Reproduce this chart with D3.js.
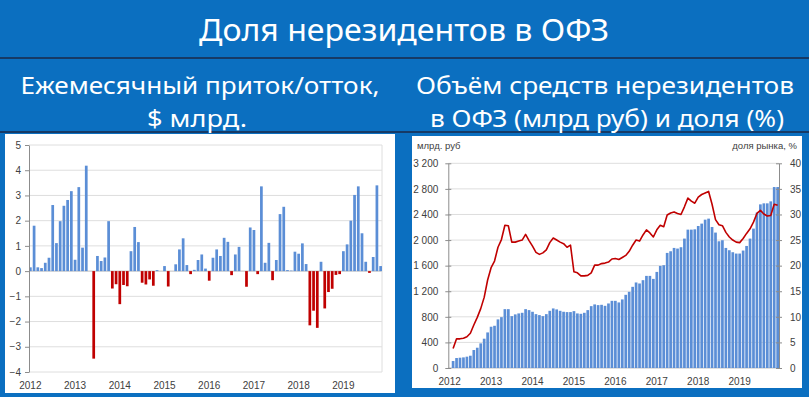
<!DOCTYPE html>
<html>
<head>
<meta charset="utf-8">
<script src="https://cdnjs.cloudflare.com/ajax/libs/d3/7.8.5/d3.min.js"></script>
<style>
  body { margin: 0; background: #0b6fc0; }
  svg { display: block; }
</style>
</head>
<body>
<svg id="chart" width="809" height="397"></svg>
<script>
// Monthly flows, $ bn, Jan 2012 .. Nov 2019
const flowStart = new Date(2012, 0, 1);
const flowEnd = new Date(2019, 11, 1);
const flowValues = [
  0.15, 1.80, 0.15, 0.12, 0.33, 0.53, 2.62, 1.11, 1.98, 2.59, 2.82, 3.17,
  0.45, 3.33, 0.93, 4.18, 0.00, -3.47, 0.60, 0.40, 0.54, 1.98, -0.69, -0.52,
  -1.31, -0.55, -0.60, 0.79, 1.75, 1.15, -0.46, -0.53, -0.33, -0.58, 0.04, 0.00,
  0.20, -0.61, 0.00, 0.27, 0.86, 1.30, 0.24, -0.12, 0.05, 0.44, 0.66, 0.10,
  -0.38, 0.53, 0.86, 0.60, 1.32, 1.16, -0.16, 0.66, 0.96, 0.00, -0.62, 1.73,
  1.63, -0.12, 3.36, 0.33, 1.12, -0.36, 0.44, 2.26, 2.55, 0.04, 0.02, 0.77,
  0.69, 1.10, 0.28, -2.15, -1.57, -2.25, 0.37, -1.48, -0.83, -0.70, -0.15, -0.12,
  0.79, 1.06, 2.00, 3.02, 3.36, 1.50, 0.37, -0.07, 0.56, 3.40, 0.20
];
const flowTicks = [-4, -3, -2, -1, 0, 1, 2, 3, 4, 5];

// Holdings, bn rub, and market share, %, Feb 2012 .. Dec 2019
const stockStart = new Date(2012, 0, 1);
const stockEnd = new Date(2020, 0, 1);
const stockValues = [
  109, 156, 161, 166, 177, 192, 281, 317, 385, 458, 556,
  645, 660, 760, 795, 920, 920, 811, 838, 853, 863, 920, 905,
  879, 842, 827, 811, 842, 894, 931, 916, 894, 879, 874, 874,
  889, 853, 847, 863, 905, 967, 994, 983, 988, 972, 1009, 1050,
  1050, 1025, 1072, 1144, 1191, 1269, 1337, 1321, 1373, 1440, 1440, 1393,
  1502, 1596, 1607, 1799, 1825, 1877, 1867, 1888, 2023, 2163, 2163, 2168,
  2220, 2257, 2319, 2335, 2204, 2117, 1981, 1997, 1877, 1841, 1810, 1789,
  1789, 1836, 1908, 2023, 2179, 2429, 2558, 2574, 2574, 2605, 2829, 2829
];
const shareValues = [
  3.8, 5.7, 5.7, 5.8, 6.1, 6.8, 8.4, 9.9, 11.6, 13.8, 17.2,
  19.6, 20.9, 23.6, 25.1, 27.9, 27.8, 24.6, 24.6, 24.8, 25.0, 26.1, 24.9,
  23.8, 22.6, 22.2, 22.5, 23.1, 24.5, 25.4, 25.0, 24.6, 24.3, 23.6, 24.0,
  18.8, 18.6, 18.0, 18.0, 18.1, 18.6, 20.1, 20.1, 20.4, 20.5, 20.7, 21.3,
  21.4, 21.2, 21.6, 22.0, 22.8, 24.0, 25.0, 24.8, 26.0, 27.0, 26.4, 25.6,
  27.0, 27.9, 27.6, 29.9, 30.3, 30.5, 30.2, 30.0, 31.5, 33.2, 32.6, 32.2,
  33.4, 33.9, 34.2, 34.5, 32.0, 29.0, 28.0, 27.8, 26.5, 25.6, 25.0, 24.6,
  24.5, 25.3, 26.3, 27.2, 28.5, 30.2, 30.8, 30.1, 29.7, 29.8, 32.0, 31.8
];
const stockTicks = [0, 400, 800, 1200, 1600, 2000, 2400, 2800, 3200];
const shareTicks = [0, 5, 10, 15, 20, 25, 30, 35, 40];
const yearLabels = ['2012', '2013', '2014', '2015', '2016', '2017', '2018', '2019'];

const svg = d3.select('#chart');
const FONT = "'Liberation Sans', Arial, sans-serif";
const HEAD = "'Noto Sans', 'Open Sans', sans-serif";

// background and header
svg.append('rect').attr('width', 809).attr('height', 397).attr('fill', '#0b6fc0');
svg.append('rect').attr('x', 0).attr('y', 57).attr('width', 809).attr('height', 2).attr('fill', '#163a66');
svg.append('rect').attr('x', 0).attr('y', 131).attr('width', 809).attr('height', 2).attr('fill', '#163a66');

function headText(txt, cx, y, size, len) {
  svg.append('text')
    .attr('x', cx).attr('y', y)
    .attr('text-anchor', 'middle')
    .attr('textLength', len)
    .attr('lengthAdjust', 'spacingAndGlyphs')
    .style('font-family', HEAD)
    .style('font-size', size + 'px')
    .style('fill', '#ffffff')
    .text(txt);
}
headText('Доля нерезидентов в ОФЗ', 404, 41, 31, 410);
headText('Ежемесячный приток/отток,', 200, 94, 24, 359);
headText('$ млрд.', 197, 127, 24, 100);
headText('Объём средств нерезидентов', 605, 94, 24, 378);
headText('в ОФЗ (млрд руб) и доля (%)', 607, 127, 24, 354);

// panels
svg.append('rect').attr('x', 5).attr('y', 134).attr('width', 390).attr('height', 259).attr('fill', '#ffffff');
svg.append('rect').attr('x', 412).attr('y', 136).attr('width', 390).attr('height', 252).attr('fill', '#ffffff');

// ---------- Left chart: monthly flows ----------
const flowMonths = d3.timeMonth.range(flowStart, flowEnd);
const flowData = flowMonths.map((m, i) => ({ m, v: flowValues[i] }));

const fx = d3.scaleBand().domain(flowMonths).range([29, 382]).paddingInner(0.27).paddingOuter(0);
const fy = d3.scaleLinear().domain([-4, 5]).range([372, 145]);

const left = svg.append('g');
left.selectAll('line.grid')
  .data(flowTicks)
  .join('line')
    .attr('x1', 29).attr('x2', 382)
    .attr('y1', d => fy(d)).attr('y2', d => fy(d))
    .attr('stroke', d => d === 0 ? '#bfbfbf' : '#dedede')
    .attr('stroke-width', 1);
left.append('line')
  .attr('x1', 382).attr('x2', 382).attr('y1', fy(5)).attr('y2', fy(-4))
  .attr('stroke', '#dedede');

left.selectAll('rect.bar')
  .data(flowData)
  .join('rect')
    .attr('class', 'bar')
    .attr('x', d => fx(d.m))
    .attr('width', fx.bandwidth())
    .attr('y', d => Math.min(fy(d.v), fy(0)))
    .attr('height', d => Math.abs(fy(d.v) - fy(0)))
    .attr('fill', d => d.v >= 0 ? '#5b8ed6' : '#c00000');

const leftAxis = left.append('g')
  .attr('transform', 'translate(29,0)')
  .call(d3.axisLeft(fy).tickValues(flowTicks).tickSize(4).tickSizeOuter(0).tickPadding(4));
leftAxis.select('.domain').attr('stroke', '#8c8c8c');
leftAxis.selectAll('.tick line').attr('stroke', '#8c8c8c');
leftAxis.selectAll('.tick text')
  .style('font-family', FONT).style('font-size', '10px').style('fill', '#404040');

left.selectAll('text.year')
  .data(yearLabels)
  .join('text')
    .attr('class', 'year')
    .attr('x', d => fx(new Date(+d, 0, 1)) + fx.bandwidth() / 2)
    .attr('y', 389)
    .attr('text-anchor', 'middle')
    .style('font-family', FONT).style('font-size', '10px').style('fill', '#404040')
    .text(d => d);

// ---------- Right chart: holdings and share ----------
const stockMonths = d3.timeMonth.range(stockStart, stockEnd);
const stockData = stockMonths.slice(1).map((m, i) => ({ m, v: stockValues[i], s: shareValues[i] }));

const sx = d3.scaleBand().domain(stockMonths).range([448.3, 779]).paddingInner(0.22).paddingOuter(0);
const sy = d3.scaleLinear().domain([0, 3200]).range([368, 163.3]);
const py = d3.scaleLinear().domain([0, 40]).range([368, 163.3]);
const ru = d3.formatLocale({ decimal: ',', thousands: '\u00a0', grouping: [3], currency: ['', ''] });

const right = svg.append('g');
right.selectAll('line.grid')
  .data(stockTicks)
  .join('line')
    .attr('x1', 448.3).attr('x2', 779)
    .attr('y1', d => sy(d)).attr('y2', d => sy(d))
    .attr('stroke', d => d === 0 ? '#bfbfbf' : '#dedede');

right.selectAll('rect.bar')
  .data(stockData)
  .join('rect')
    .attr('class', 'bar')
    .attr('x', d => sx(d.m))
    .attr('width', sx.bandwidth())
    .attr('y', d => sy(d.v))
    .attr('height', d => sy(0) - sy(d.v))
    .attr('fill', '#5b8ed6');

const line = d3.line()
  .x(d => sx(d.m) + sx.bandwidth() / 2)
  .y(d => py(d.s));
right.append('path')
  .datum(stockData)
  .attr('d', line)
  .attr('fill', 'none')
  .attr('stroke', '#c00000')
  .attr('stroke-width', 1.6)
  .attr('stroke-linejoin', 'round');

const ax1 = right.append('g')
  .attr('transform', 'translate(448.3,0)')
  .call(d3.axisLeft(sy).tickValues(stockTicks).tickFormat(ru.format(',')).tickSize(3).tickSizeOuter(0).tickPadding(7));
ax1.selectAll('.tick line').attr('x1', 3);
const ax2 = right.append('g')
  .attr('transform', 'translate(779,0)')
  .call(d3.axisRight(py).tickValues(shareTicks).tickSize(3).tickSizeOuter(0).tickPadding(8));
ax2.selectAll('.tick line').attr('x1', -3);
[ax1, ax2].forEach(a => {
  a.select('.domain').attr('stroke', '#8c8c8c');
  a.selectAll('.tick line').attr('stroke', '#8c8c8c');
  a.selectAll('.tick text')
    .style('font-family', FONT).style('font-size', '10px').style('fill', '#404040');
});

right.selectAll('text.year')
  .data(yearLabels)
  .join('text')
    .attr('class', 'year')
    .attr('x', d => sx(new Date(+d, 0, 1)) + sx.bandwidth() / 2)
    .attr('y', 385)
    .attr('text-anchor', 'middle')
    .style('font-family', FONT).style('font-size', '10px').style('fill', '#404040')
    .text(d => d);

right.append('text')
  .attr('x', 417).attr('y', 149)
  .style('font-family', FONT).style('font-size', '9.5px').style('fill', '#404040')
  .text('млрд. руб');
right.append('text')
  .attr('x', 797).attr('y', 149)
  .attr('text-anchor', 'end')
  .style('font-family', FONT).style('font-size', '9.5px').style('fill', '#404040')
  .text('доля рынка, %');
</script>
</body>
</html>
